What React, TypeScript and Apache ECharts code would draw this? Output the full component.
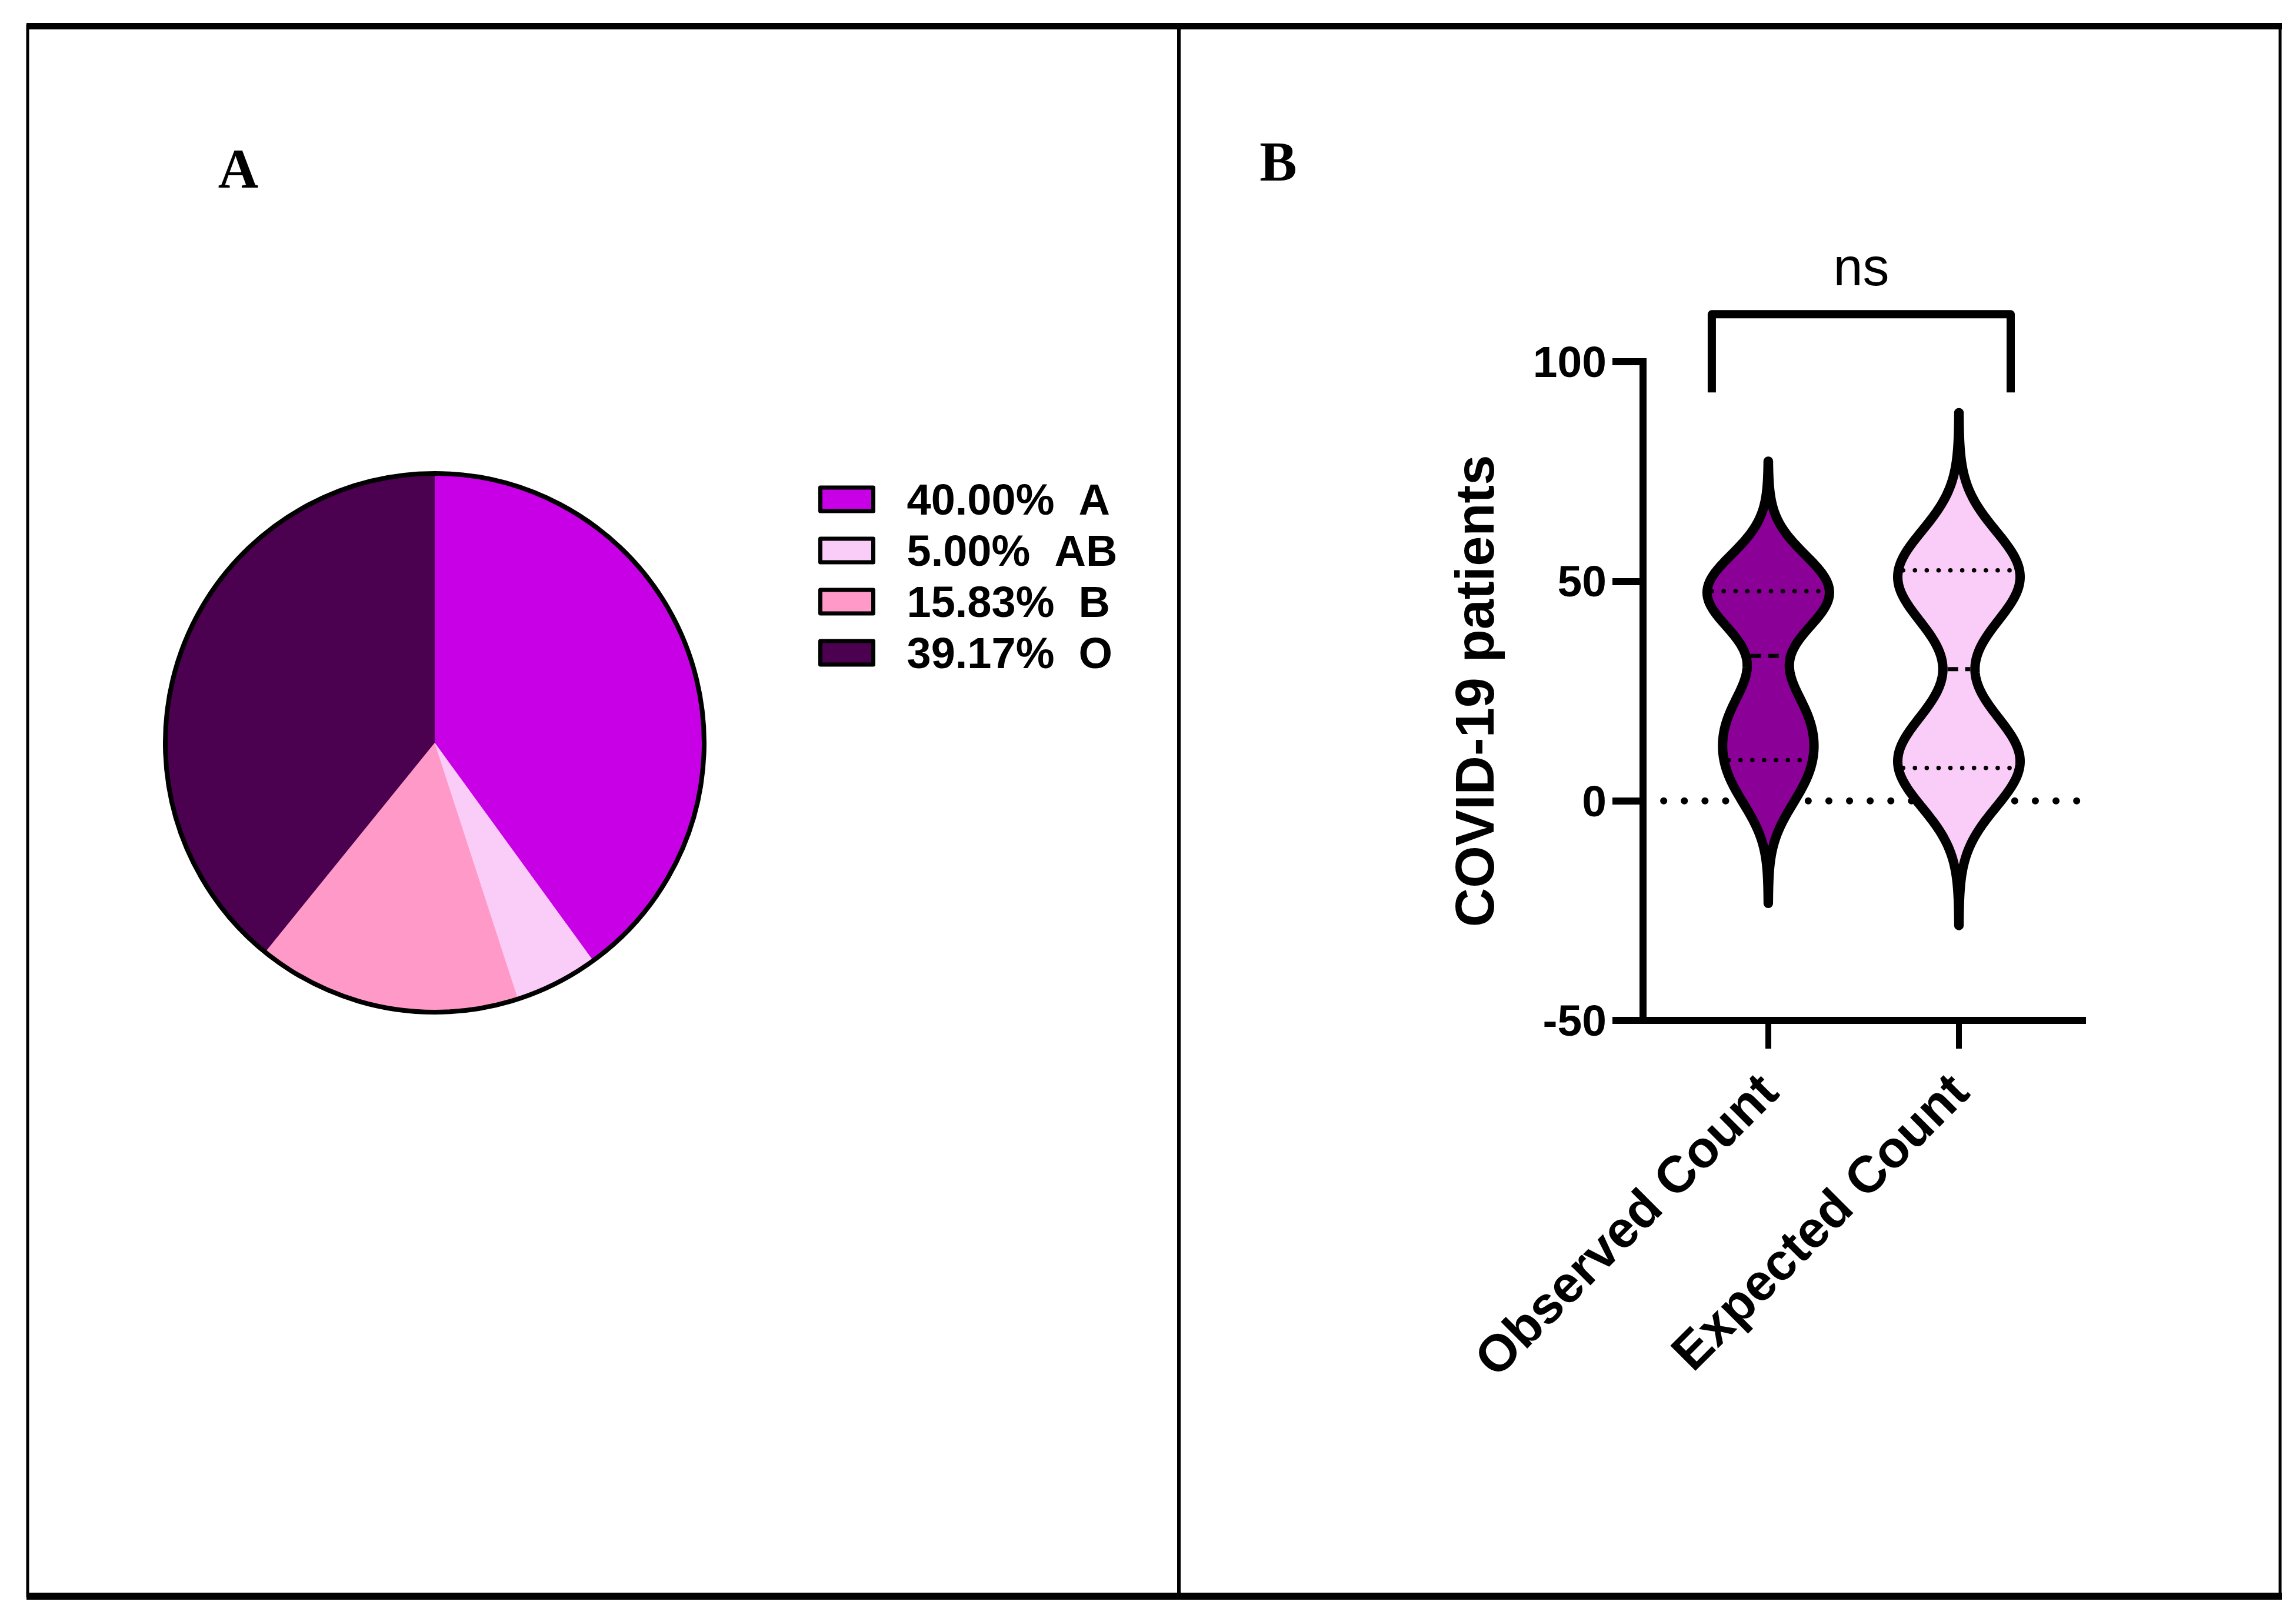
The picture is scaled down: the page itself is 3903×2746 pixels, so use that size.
import React, { useEffect, useRef } from "react";
import * as echarts from "echarts";

// ---------- data ----------
const bloodGroups = ["A", "AB", "B", "O"];
const observedCounts = [48, 6, 19, 47];
const expectedCounts = [48, 6, 12, 54];
const violinNames = ["Observed Count", "Expected Count"];
const pieColors = ["#C800E6", "#FACCF8", "#FF99C8", "#4B0050"];
const violinColors = ["#8B0096", "#FACCF8"];
const yTicks = { min: -50, max: 100, interval: 50 };
const yAxisTitle = "COVID-19 patients";
const significanceText = "ns";

// ---------- style constants ----------
const SANS = "'Liberation Sans', Arial, sans-serif";
const SERIF = "'Liberation Serif', 'Times New Roman', serif";
const KDE_SMOOTHING = 0.407;
const KDE_CUT = 3.45;
const VIOLIN_HALF = 104;
const OUTLINE = 16;

function sampleSd(v: number[]) {
  const m = v.reduce((a, b) => a + b, 0) / v.length;
  return Math.sqrt(v.reduce((a, b) => a + (b - m) * (b - m), 0) / (v.length - 1));
}
function quantile(values: number[], p: number) {
  const s = [...values].sort((a, b) => a - b);
  const n = s.length;
  const pos = (n + 1) * p;
  const lo = Math.floor(pos);
  const frac = pos - lo;
  if (lo < 1) return s[0];
  if (lo >= n) return s[n - 1];
  return s[lo - 1] + frac * (s[lo] - s[lo - 1]);
}
function density(values: number[], h: number, y: number) {
  let d = 0;
  for (const v of values) {
    const z = (y - v) / h;
    d += Math.exp(-0.5 * z * z);
  }
  return d;
}

const violinGroups = [observedCounts, expectedCounts];

export default function App() {
  const ref = useRef<HTMLDivElement>(null);
  useEffect(() => {
    if (!ref.current) return;
    const chart = echarts.init(ref.current, null, { renderer: "svg" });
    const total = observedCounts.reduce((a, b) => a + b, 0);
    const pct = (name: string) => {
      const i = bloodGroups.indexOf(name);
      return ((observedCounts[i] / total) * 100).toFixed(2) + "%";
    };

    const violinRender = (params: any, api: any) => {
      const i = api.value(0);
      const vals = violinGroups[i];
      const h = KDE_SMOOTHING * sampleSd(vals);
      const lo = Math.min(...vals) - KDE_CUT * h;
      const hi = Math.max(...vals) + KDE_CUT * h;
      const N = 300;
      const ys: number[] = [];
      const ds: number[] = [];
      let maxD = 0;
      for (let k = 0; k <= N; k++) {
        const y = lo + ((hi - lo) * k) / N;
        const d = density(vals, h, y);
        ys.push(y);
        ds.push(d);
        if (d > maxD) maxD = d;
      }
      const cx = api.coord([i, 0])[0];
      const left: number[][] = [];
      const right: number[][] = [];
      for (let k = 0; k <= N; k++) {
        const py = api.coord([i, ys[k]])[1];
        const w = (ds[k] / maxD) * VIOLIN_HALF;
        left.push([cx - w, py]);
        right.push([cx + w, py]);
      }
      const pts = left.concat(right.reverse());
      const hLine = (q: number, dash: number[], cap: string, lw: number) => {
        const w = (density(vals, h, q) / maxD) * VIOLIN_HALF - OUTLINE / 2;
        const py = api.coord([i, q])[1];
        return {
          type: "line",
          shape: { x1: cx - w, y1: py, x2: cx + w, y2: py },
          style: { stroke: "#000", lineWidth: lw, lineDash: dash, lineCap: cap },
        };
      };
      return {
        type: "group",
        children: [
          {
            type: "polygon",
            shape: { points: pts },
            style: {
              fill: violinColors[i],
              stroke: "#000",
              lineWidth: OUTLINE,
              lineJoin: "round",
            },
          },
          hLine(quantile(vals, 0.25), [0.1, 20], "round", 7.5),
          hLine(quantile(vals, 0.75), [0.1, 20], "round", 7.5),
          hLine(quantile(vals, 0.5), [18, 12], "butt", 7),
        ],
      };
    };

    const zeroRender = (params: any, api: any) => {
      const cs = params.coordSys;
      const py = api.coord([0, 0])[1];
      return {
        type: "line",
        shape: { x1: cs.x, y1: py, x2: cs.x + cs.width, y2: py },
        style: { stroke: "#000", lineWidth: 12, lineDash: [0.1, 35], lineCap: "round" },
      };
    };

    const bracketRender = (params: any, api: any) => {
      const p0 = api.coord([0, 93]);
      const p1 = api.coord([1, 93]);
      const top = api.coord([0, 110.8])[1];
      const textY = api.coord([0, 121.5])[1];
      const xl = p0[0] - 96;
      const xr = p1[0] + 88;
      return {
        type: "group",
        children: [
          {
            type: "polyline",
            shape: { points: [[xl, p0[1]], [xl, top], [xr, top], [xr, p1[1]]] },
            style: { stroke: "#000", lineWidth: 14, fill: "none", lineJoin: "round" },
          },
          {
            type: "text",
            x: (xl + xr) / 2,
            y: textY,
            style: {
              text: significanceText,
              fontSize: 90,
              fontFamily: SANS,
              fill: "#000",
              align: "center",
              verticalAlign: "middle",
            },
          },
        ],
      };
    };

    const option: any = {
      animation: false,
      backgroundColor: "#ffffff",
      legend: {
        orient: "vertical",
        left: 1386,
        top: 807,
        itemWidth: 90,
        itemHeight: 40,
        itemGap: 13,
        icon: "rect",
        selectedMode: false,
        data: bloodGroups,
        itemStyle: { borderColor: "#000", borderWidth: 7 },
        formatter: (name: string) => pct(name) + "\u00a0\u00a0" + name,
        textStyle: {
          fontSize: 74,
          fontWeight: "bold",
          fontFamily: SANS,
          color: "#000",
          lineHeight: 74,
          padding: [0, 0, 0, 52],
        },
      },
      grid: { left: 2793, top: 615, width: 747, height: 1120 },
      xAxis: {
        type: "value",
        min: -0.657,
        max: 1.648,
        axisLine: { show: true, onZero: false, lineStyle: { color: "#000", width: 12, cap: "square" } },
        axisTick: { show: true, customValues: [0, 1], length: 48, lineStyle: { color: "#000", width: 10 } },
        axisLabel: {
          customValues: [0, 1],
          formatter: (v: number) => violinNames[Math.round(v)],
          rotate: 45,
          margin: 105,
          color: "#000",
          fontSize: 88,
          fontWeight: "bold",
          fontFamily: SANS,
        },
        splitLine: { show: false },
      },
      yAxis: {
        type: "value",
        min: yTicks.min,
        max: yTicks.max,
        interval: yTicks.interval,
        name: yAxisTitle,
        nameLocation: "middle",
        nameRotate: 90,
        nameGap: 240,
        nameTextStyle: { fontSize: 92, fontWeight: "bold", fontFamily: SANS, color: "#000" },
        axisLine: { show: true, onZero: false, lineStyle: { color: "#000", width: 12, cap: "square" } },
        axisTick: { show: true, length: 52, lineStyle: { color: "#000", width: 12 } },
        axisLabel: { margin: 62, color: "#000", fontSize: 75, fontWeight: "bold", fontFamily: SANS },
        splitLine: { show: false },
      },
      series: [
        {
          type: "pie",
          center: [739, 1263],
          radius: 458,
          startAngle: 90,
          clockwise: true,
          silent: true,
          label: { show: false },
          labelLine: { show: false },
          emphasis: { disabled: true },
          itemStyle: { borderWidth: 0 },
          data: bloodGroups.map((g, i) => ({
            name: g,
            value: observedCounts[i],
            itemStyle: { color: pieColors[i] },
          })),
        },
        {
          type: "pie",
          center: [739, 1263],
          radius: 458,
          silent: true,
          label: { show: false },
          labelLine: { show: false },
          emphasis: { disabled: true },
          itemStyle: { color: "rgba(0,0,0,0)", borderColor: "#000", borderWidth: 8 },
          data: [{ name: "pieOutline", value: 1 }],
        },
        {
          type: "custom",
          z: 1,
          silent: true,
          clip: false,
          renderItem: zeroRender,
          encode: { x: 0, y: 1 },
          data: [[0, 0]],
        },
        {
          type: "custom",
          z: 3,
          silent: true,
          clip: false,
          renderItem: violinRender,
          encode: { x: 0, y: 1 },
          data: violinGroups.map((g, i) => [i, quantile(g, 0.5)]),
        },
        {
          type: "custom",
          z: 3,
          silent: true,
          clip: false,
          renderItem: bracketRender,
          encode: { x: 0, y: 1 },
          data: [[0, 100]],
        },
      ],
      graphic: [
        { type: "rect", shape: { x: 47, y: 44, width: 3829, height: 2669 }, style: { fill: "none", stroke: "#000", lineWidth: 5 } },
        { type: "rect", shape: { x: 45, y: 39, width: 3834, height: 11 }, style: { fill: "#000" } },
        { type: "rect", shape: { x: 45, y: 2708, width: 3834, height: 12 }, style: { fill: "#000" } },
        { type: "rect", shape: { x: 2001, y: 50, width: 6, height: 2660 }, style: { fill: "#000" } },
        {
          type: "text",
          x: 405,
          y: 287,
          style: { text: "A", fontSize: 95, fontWeight: "bold", fontFamily: SERIF, fill: "#000", align: "center", verticalAlign: "middle" },
        },
        {
          type: "text",
          x: 2173,
          y: 275,
          style: { text: "B", fontSize: 95, fontWeight: "bold", fontFamily: SERIF, fill: "#000", align: "center", verticalAlign: "middle" },
        },
      ],
    };
    chart.setOption(option);
    return () => chart.dispose();
  }, []);
  return (
    <div
      ref={ref}
      style={{ position: "fixed", left: 0, top: 0, width: 3903, height: 2746, background: "#fff" }}
    />
  );
}
